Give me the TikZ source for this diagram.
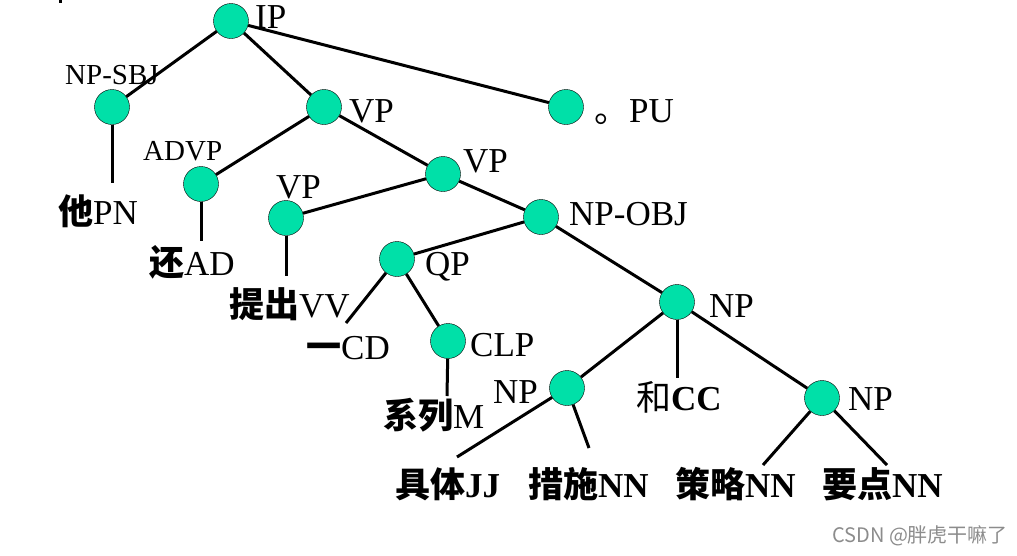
\documentclass[tikz,border=0pt]{standalone}
\usepackage{fontspec}
\setmainfont{Liberation Serif}
\newfontfamily\cjk{Noto Sans CJK SC}
\usepackage{tikz}

\definecolor{treegreen}{RGB}{0,224,168}
\newcommand{\bigfont}{\fontsize{35}{35}\selectfont}
\newcommand{\midfont}{\fontsize{29}{29}\selectfont}
\newcommand{\zh}[1]{{\cjk\bfseries #1}}

\tikzset{
  tn/.style={circle,draw=black,thin,fill=treegreen,minimum size=35pt,inner sep=0pt},
  br/.style={line width=3pt},
  lab/.style={anchor=base west,inner sep=0pt,font=\bigfont},
  slab/.style={anchor=base west,inner sep=0pt,font=\midfont},
}

\begin{document}
\begin{tikzpicture}[x=1pt,y=-1pt]
  \useasboundingbox (0,0) rectangle (1017,555);
  \fill (59,0) rectangle (62,3);
  % phrase nodes
  \node[tn] (ip)    at (231,21)  {};
  \node[tn] (sbj)   at (112,107) {};
  \node[tn] (vpa)   at (324,107) {};
  \node[tn] (pu)    at (566,107) {};
  \node[tn] (advp)  at (201,184) {};
  \node[tn] (vpb)   at (443,174) {};
  \node[tn] (vpc)   at (286,218) {};
  \node[tn] (obj)   at (541,217) {};
  \node[tn] (qp)    at (397,259) {};
  \node[tn] (npa)   at (677,302) {};
  \node[tn] (clp)   at (448,341) {};
  \node[tn] (npb)   at (567,388) {};
  \node[tn] (npc)   at (822,398) {};
  % free ends of the leaf branches
  \coordinate (pn) at (112,183);
  \coordinate (ad) at (201,241);
  \coordinate (vv) at (286,276);
  \coordinate (cd) at (346,323);
  \coordinate (m)  at (447,396);
  \coordinate (cc) at (677,378);
  \coordinate (jj) at (457,457);
  \coordinate (nna) at (589,448);
  \coordinate (nnb) at (763,465);
  \coordinate (nnc) at (887,465);
  \foreach \a/\b in {ip/sbj,ip/vpa,ip/pu,sbj/pn,vpa/advp,vpa/vpb,advp/ad,
      vpb/vpc,vpb/obj,vpc/vv,obj/qp,obj/npa,qp/cd,qp/clp,clp/m,
      npa/npb,npa/cc,npa/npc,npb/jj,npb/nna,npc/nnb,npc/nnc}
    \draw[br] (\a) -- (\b);
  % labels
  \node[lab]  (tip)  at (255,28)  {IP};
  \node[slab] (tsbj) at (65,84)   {NP-SBJ};
  \node[lab]  (tvpa) at (349,122) {VP};
  \node[lab]  (tpu)  at (594,122) {{\cjk 。}PU};
  \node[slab] (tadv) at (143,160) {ADVP};
  \node[lab]  (tvpb) at (463,172) {VP};
  \node[lab]  (tvpc) at (276,198) {VP};
  \node[lab]  (tobj) at (569,225) {NP-OBJ};
  \node[lab]  (tqp)  at (425,275) {QP};
  \node[lab]  (tnpa) at (709,317) {NP};
  \node[lab]  (tclp) at (470,356) {CLP};
  \node[lab]  (tnpb) at (493,403) {NP};
  \node[lab]  (tnpc) at (848,410) {NP};
  % leaves
  \node[lab] (lpn) at (58,224)  {\zh{他}PN};
  \node[lab] (lad) at (149,275) {\zh{还}AD};
  \node[lab] (lvv) at (229,317) {\zh{提出}VV};
  \node[lab] (lcd) at (306,359) {\zh{一}CD};
  \node[lab] (lm)  at (383,428) {\zh{系列}M};
  \node[lab] (lcc) at (636,410) {{\cjk 和}\textbf{CC}};
  \node[lab] (ljj) at (395,497) {\zh{具体}\textbf{JJ}};
  \node[lab] (lna) at (528,497) {\zh{措施}\textbf{NN}};
  \node[lab] (lnb) at (675,497) {\zh{策略}\textbf{NN}};
  \node[lab] (lnc) at (822,497) {\zh{要点}\textbf{NN}};
  \node[anchor=base west,inner sep=0pt,text=black!45,font={\cjk\fontsize{20}{20}\selectfont}]
    (wm) at (832,542) {CSDN @胖虎干嘛了};
\end{tikzpicture}
\end{document}
